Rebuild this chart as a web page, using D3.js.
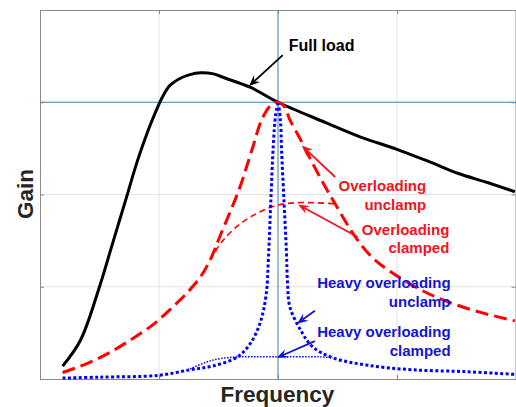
<!DOCTYPE html>
<html><head><meta charset="utf-8">
<script src="https://cdn.jsdelivr.net/npm/d3@7"></script>
<style>body{margin:0;background:#fff}svg{display:block}</style>
</head><body>
<script>
// ---- data (frequency and gain in normalized units) ----
const fullLoadX = [0.19,0.34,0.50,0.61,0.72,0.82,0.91,0.97,1.03,1.09,1.18,1.26,1.35,1.45,1.56,1.77,2.00,2.40,2.70,3.00,3.28,3.51,3.76,3.99];
const fullLoadY = [0.14,0.42,1.00,1.47,1.94,2.37,2.70,2.89,3.06,3.18,3.26,3.30,3.32,3.31,3.26,3.16,3.00,2.78,2.62,2.49,2.35,2.23,2.13,2.03];

const overUnclampX = [0.19,0.40,0.59,0.78,0.95,1.09,1.24,1.35,1.43,1.51,1.68,1.78,1.87,1.95,2.00,2.05,2.10,2.20,2.29,2.39,2.48,2.65,2.79,2.95,3.18,3.40,3.68,3.99];
const overUnclampY = [0.07,0.17,0.29,0.44,0.59,0.75,0.94,1.11,1.29,1.54,2.08,2.48,2.83,2.98,3.00,2.96,2.81,2.57,2.34,2.10,1.90,1.54,1.32,1.16,0.98,0.85,0.73,0.63];

const overClampX = [1.43,1.53,1.68,1.83,1.98,2.14,2.31,2.48];
const overClampY = [1.29,1.49,1.68,1.80,1.88,1.91,1.91,1.90];

const heavyUnclampX = [0.19,0.50,1.00,1.26,1.45,1.66,1.77,1.85,1.90,1.92,1.94,1.96,1.98,2.00,2.02,2.03,2.05,2.07,2.08,2.10,2.19,2.29,2.46,2.75,3.13,3.57,3.99];
const heavyUnclampY = [0.01,0.02,0.04,0.10,0.14,0.24,0.39,0.61,0.91,1.32,1.94,2.52,2.86,2.98,2.81,2.48,1.94,1.40,1.04,0.78,0.53,0.35,0.23,0.15,0.10,0.08,0.05];

const heavyClampX = [1.26,1.39,1.51,1.68,2.02,2.35,2.46];
const heavyClampY = [0.11,0.18,0.22,0.24,0.24,0.24,0.23];

const gridTicks = [1,2,3];
const refX = 2, refY = 3;

// annotations: [text lines], anchor, colour
const labels = [
  {lines:["Full load"], x:2.09, y:3.556, anchor:"start", color:"#000", size:16},
  {lines:["Overloading","unclamp"], x:3.245, y:2.035, anchor:"end", color:"#f0141e", size:15},
  {lines:["Overloading","clamped"], x:3.44, y:1.565, anchor:"end", color:"#f0141e", size:15},
  {lines:["Heavy overloading","unclamp"], x:3.45, y:0.985, anchor:"end", color:"#1414d2", size:15},
  {lines:["Heavy overloading","clamped"], x:3.45, y:0.455, anchor:"end", color:"#1414d2", size:15}
];
const arrows = [
  {x1:2.04, y1:3.51, x2:1.756, y2:3.176, color:"#000"},
  {x1:2.48, y1:2.19, x2:2.20, y2:2.53, color:"#f0141e"},
  {x1:2.67, y1:1.54, x2:2.17, y2:1.89, color:"#f0141e"},
  {x1:2.31, y1:0.74, x2:2.16, y2:0.60, color:"#1414d2"},
  {x1:2.31, y1:0.41, x2:1.99, y2:0.23, color:"#1414d2"}
];

// ---- drawing ----
const W = 516, H = 407;
const svg = d3.select("body").append("svg").attr("width", W).attr("height", H);
const x = d3.scaleLinear().domain([0,4]).range([40,516]);
const y = d3.scaleLinear().domain([0,4]).range([379,10]);

// grid
const g = svg.append("g");
g.selectAll(".gx").data(gridTicks).join("line")
  .attr("x1", d=>x(d)).attr("x2", d=>x(d)).attr("y1", y(0)).attr("y2", y(4))
  .attr("stroke", "#e3e3e3").attr("stroke-width", 1);
g.selectAll(".gy").data(gridTicks).join("line")
  .attr("y1", d=>y(d)).attr("y2", d=>y(d)).attr("x1", x(0)).attr("x2", x(4))
  .attr("stroke", "#e3e3e3").attr("stroke-width", 1);

// axes (box with inward ticks, no labels)
const axB = d3.axisBottom(x).tickValues(gridTicks).tickSize(-4).tickFormat("");
const axT = d3.axisTop(x).tickValues(gridTicks).tickSize(-4).tickFormat("");
const axL = d3.axisLeft(y).tickValues(gridTicks).tickSize(-4).tickFormat("");
const axR = d3.axisRight(y).tickValues(gridTicks).tickSize(-4).tickFormat("");
function styleAx(sel){ sel.selectAll("path,line").attr("stroke","#8a8a8a"); }
svg.append("g").attr("transform",`translate(0,${y(0)})`).call(axB).call(styleAx);
svg.append("g").attr("transform",`translate(0,${y(4)})`).call(axT).call(styleAx);
svg.append("g").attr("transform",`translate(${x(0)},0)`).call(axL).call(styleAx);
svg.append("g").attr("transform",`translate(${x(4)-0.5},0)`).call(axR).call(styleAx);

// reference lines
svg.append("line").attr("x1", x(refX)).attr("x2", x(refX)).attr("y1", y(0)).attr("y2", y(4))
  .attr("stroke", "#4a8bc0").attr("stroke-width", 1);
svg.append("line").attr("x1", x(0)).attr("x2", x(4)).attr("y1", y(refY)).attr("y2", y(refY))
  .attr("stroke", "#4a8bc0").attr("stroke-width", 1);

const line = d3.line().x(d=>x(d[0])).y(d=>y(d[1])).curve(d3.curveCatmullRom.alpha(0.5));
const zip = (a,b)=>a.map((v,i)=>[v,b[i]]);

function curve(xs, ys, color, width, dash){
  svg.append("path").datum(zip(xs,ys)).attr("d", line)
    .attr("fill","none").attr("stroke", color).attr("stroke-width", width)
    .attr("stroke-dasharray", dash).attr("stroke-linejoin","round");
}
curve(fullLoadX, fullLoadY, "#000", 3, null);
curve(overUnclampX, overUnclampY, "#ff0000", 3, "13,6");
curve(overClampX, overClampY, "#ff0000", 1.6, "6,4");
curve(heavyUnclampX, heavyUnclampY, "#0000ff", 3, "3,2.4");
curve(heavyClampX, heavyClampY, "#0000ff", 1.5, "1.5,1.5");

// arrows
arrows.forEach(a=>{
  const X1=x(a.x1), Y1=y(a.y1), X2=x(a.x2), Y2=y(a.y2);
  const ang = Math.atan2(Y2-Y1, X2-X1);
  const L=11, Wd=4.5, back=7;
  const bx = X2 - back*Math.cos(ang), by = Y2 - back*Math.sin(ang);
  svg.append("line").attr("x1",X1).attr("y1",Y1).attr("x2",bx).attr("y2",by)
    .attr("stroke",a.color).attr("stroke-width",1.8);
  const p1 = [X2 - L*Math.cos(ang) + Wd*Math.sin(ang), Y2 - L*Math.sin(ang) - Wd*Math.cos(ang)];
  const p2 = [X2 - L*Math.cos(ang) - Wd*Math.sin(ang), Y2 - L*Math.sin(ang) + Wd*Math.cos(ang)];
  svg.append("path").attr("d",`M${X2},${Y2}L${p1[0]},${p1[1]}L${bx},${by}L${p2[0]},${p2[1]}Z`)
    .attr("fill",a.color);
});

// labels
labels.forEach(l=>{
  const t = svg.append("text").attr("x", x(l.x)).attr("y", y(l.y))
    .attr("text-anchor", l.anchor).attr("fill", l.color)
    .attr("font-family","'Liberation Sans', Arial, sans-serif").attr("font-weight","bold")
    .attr("font-size", l.size);
  l.lines.forEach((s,i)=>{
    t.append("tspan").attr("x", x(l.x)).attr("dy", i===0?0:18.5).text(s);
  });
});

// axis titles
svg.append("text").attr("x", 277.5).attr("y", 401.5).attr("text-anchor","middle")
  .attr("font-family","'Liberation Sans', Arial, sans-serif").attr("font-weight","bold")
  .attr("font-size", 22.5).attr("fill","#262626").text("Frequency");
svg.append("text").attr("transform","translate(33,194) rotate(-90)").attr("text-anchor","middle")
  .attr("font-family","'Liberation Sans', Arial, sans-serif").attr("font-weight","bold")
  .attr("font-size", 22.5).attr("fill","#262626").text("Gain");
</script>
</body></html>
